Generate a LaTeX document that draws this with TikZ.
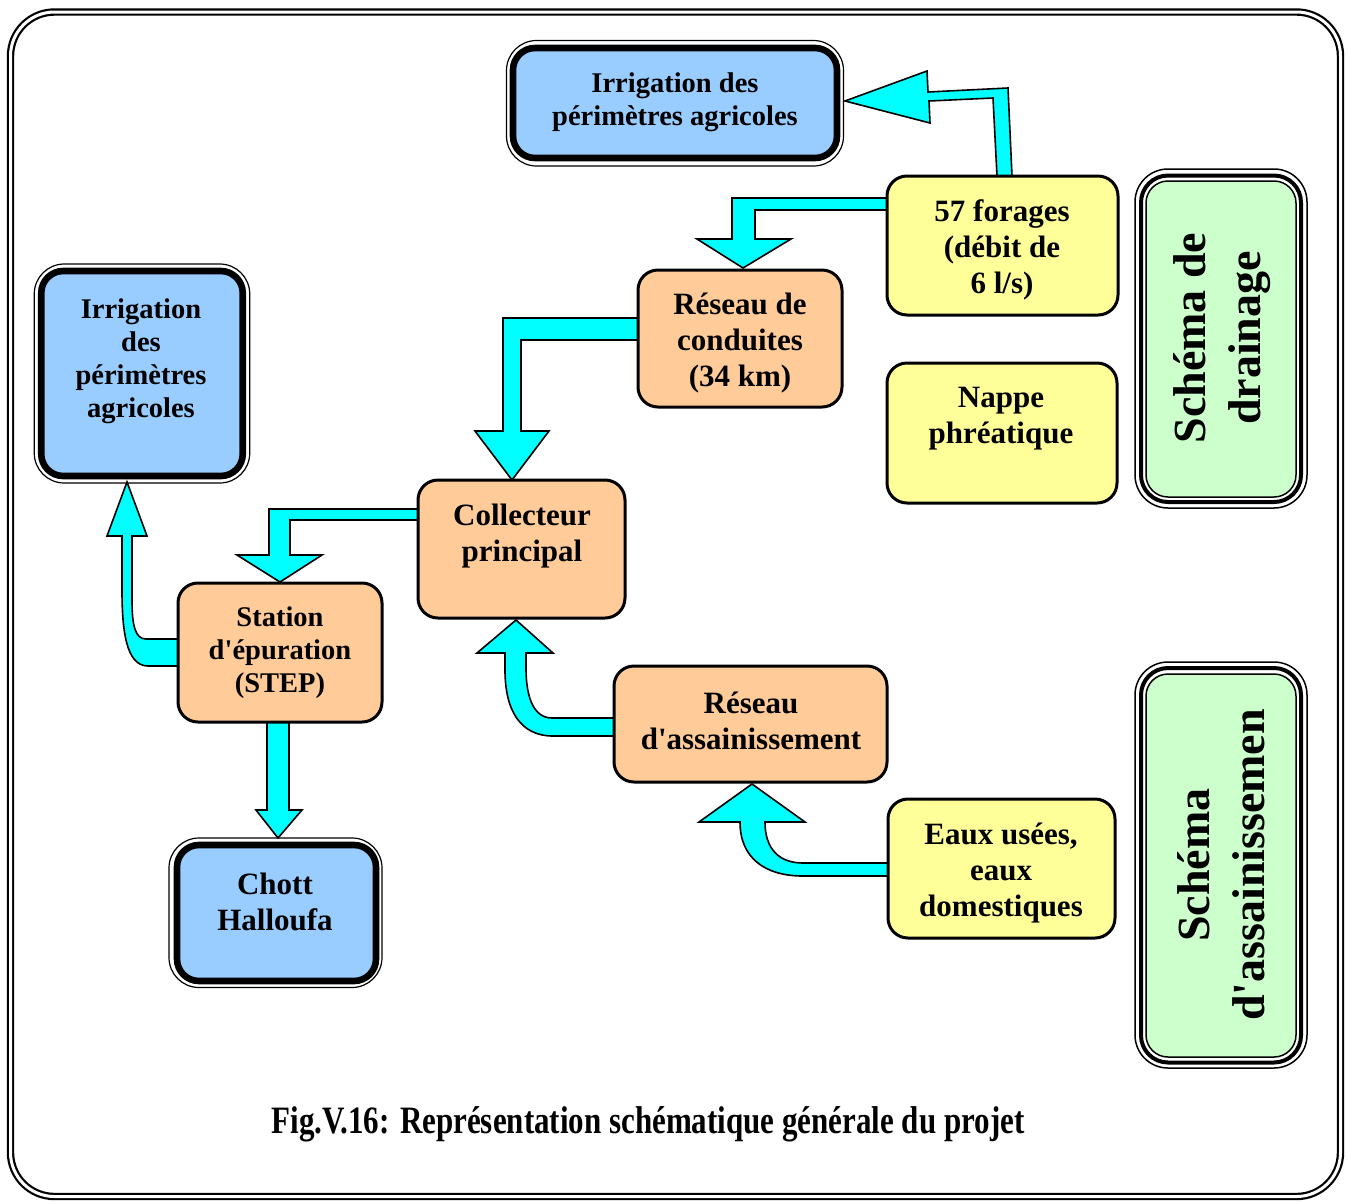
\documentclass[tikz,border=0pt]{standalone}
\usepackage{fontspec}
\usepackage{graphicx}
\setmainfont{Liberation Serif}
\usetikzlibrary{backgrounds}

\definecolor{skyfill}{HTML}{99CCFF}
\definecolor{peach}{HTML}{FFCC99}
\definecolor{lemon}{HTML}{FFFF99}
\definecolor{mint}{HTML}{CCFFCC}
\definecolor{flow}{HTML}{00FFFF}

\begin{document}
\begin{tikzpicture}[x=0.5pt,y=-0.5pt,
  procbox/.style={rectangle, rounded corners=10pt, draw, line width=1.5pt,
    outer sep=0pt, inner sep=0pt},
  peachbox/.style={procbox, fill=peach},
  lemonbox/.style={procbox, fill=lemon},
  sinkbox/.style={rectangle, rounded corners=11pt, draw, line width=3.3pt,
    fill=skyfill, outer sep=0pt, inner sep=0pt},
  sinkring/.style={draw, line width=0.6pt, rounded corners=15pt},
  legendbox/.style={rectangle, rounded corners=11pt, draw, line width=0.75pt,
    fill=mint, outer sep=0pt, inner sep=0pt},
  legendthick/.style={draw, line width=2pt, rounded corners=13.5pt},
  legendthin/.style={draw, line width=0.75pt, rounded corners=16.5pt},
  boxtext/.style={align=center, inner sep=0pt,
    font=\fontsize{15.5}{18}\selectfont\bfseries},
  boxtextsmall/.style={align=center, inner sep=0pt,
    font=\fontsize{14.25}{16.5}\selectfont\bfseries},
  legendtext/.style={align=center, inner sep=0pt, rotate=90,
    font=\fontsize{23}{27.5}\selectfont\bfseries},
  flowarrow/.style={fill=flow, draw=black, line width=0.8pt, line join=miter},
]
\useasboundingbox (0,0) rectangle (1350,1201);

% ---------- boxes ----------
% destination boxes (blue, heavy border with thin outer ring)
\node[sinkbox, minimum width=162pt, minimum height=55pt] (irrT) at (675,103) {};
\draw[sinkring] ([shift={(-6.5,-7.5)}]irrT.north west) rectangle ([shift={(6.5,8)}]irrT.south east);
\node[boxtextsmall] (irrT-t) at (675,102.5) {Irrigation des\\périmètres agricoles};

\node[sinkbox, minimum width=100.75pt, minimum height=102.5pt] (irrL) at (142,373.5) {};
\draw[sinkring] ([shift={(-7,-7)}]irrL.north west) rectangle ([shift={(7,7)}]irrL.south east);
\node[boxtextsmall] (irrL-t) at (141,361.5) {Irrigation\\des\\périmètres\\agricoles};

\node[sinkbox, minimum width=99.5pt, minimum height=68pt] (chott) at (276.5,913) {};
\draw[sinkring] ([shift={(-8,-7)}]chott.north west) rectangle ([shift={(6,6.5)}]chott.south east);
\node[boxtext] (chott-t) at (275,902) {Chott\\Halloufa};

% processing boxes (peach)
\node[peachbox, minimum width=102pt, minimum height=68.5pt] (cond) at (740,338.5) {};
\node[boxtext] (cond-t) at (740,343.5) {Réseau de\\conduites\\(34 km)};

\node[peachbox, minimum width=103.5pt, minimum height=69pt] (coll) at (521.5,549) {};
\node[boxtext] (coll-t) at (522,536.5) {Collecteur\\principal};

\node[peachbox, minimum width=102pt, minimum height=69.5pt] (stat) at (280,652.5) {};
\node[boxtextsmall] (stat-t) at (280,653) {Station\\d\textquotesingle épuration\\(STEP)};

\node[peachbox, minimum width=136.5pt, minimum height=58pt] (assn) at (750.5,724) {};
\node[boxtext] (assn-t) at (751,720.5) {Réseau\\d\textquotesingle assainissement};

% source boxes (yellow)
\node[lemonbox, minimum width=115.5pt, minimum height=69.5pt] (forg) at (1002.5,245.5) {};
\node[boxtext] (forg-t) at (1002,250) {57 forages\\(débit de\\6 l/s)};

\node[lemonbox, minimum width=115pt, minimum height=70pt] (napp) at (1002,433) {};
\node[boxtext] (napp-t) at (1001,419) {Nappe\\phréatique};

\node[lemonbox, minimum width=113.5pt, minimum height=69.5pt] (eaux) at (1001.5,868.5) {};
\node[boxtext] (eaux-t) at (1001,873) {Eaux usées,\\eaux\\domestiques};

% legend boxes (green, thin-thick-thin border)
\node[legendbox, minimum width=75pt, minimum height=158pt] (drn) at (1221,339) {};
\draw[legendthick] ([shift={(-5,-5.5)}]drn.north west) rectangle ([shift={(5,5)}]drn.south east);
\draw[legendthin] ([shift={(-11,-12)}]drn.north west) rectangle ([shift={(11,11)}]drn.south east);
\node[legendtext] (drn-t) at (1222,338) {Schéma de\\drainage};

\node[legendbox, minimum width=75pt, minimum height=191.5pt] (san) at (1221,865.5) {};
\draw[legendthick] ([shift={(-5,-6)}]san.north west) rectangle ([shift={(5,5.5)}]san.south east);
\draw[legendthin] ([shift={(-11,-12)}]san.north west) rectangle ([shift={(11,11)}]san.south east);
\node[legendtext] (san-t) at (1221,865) {Schéma\\d\textquotesingle assainissemen};

% caption
\node[inner sep=0pt] (cap) at (648,1124)
  {\scalebox{1}[1.25]{\fontsize{15.5}{18}\selectfont\bfseries Fig.V.16: Représentation schématique générale du projet}};

% ---------- frame and flow arrows (behind the boxes) ----------
\begin{pgfonlayer}{background}
\fill[white] (0,0) rectangle (1350,1201);
\draw[line width=1.1pt, double=white, double distance=1.5pt, rounded corners=22pt]
  (10.5,12) rectangle (1340.5,1196.5);

% forages -> irrigation (top)
\draw[flowarrow] ([shift={(-5.5,0)}]forg.north) -- ([shift={(-9.5,-78)}]forg.north)
  -- ([shift={(92,-2)}]irrT.east) -- ([shift={(93,20)}]irrT.east)
  -- ([shift={(8,-2)}]irrT.east) -- ([shift={(90,-32)}]irrT.east)
  -- ([shift={(91,-11)}]irrT.east) -- ([shift={(5.5,-88)}]forg.north)
  -- ([shift={(9.5,0)}]forg.north) -- cycle;

% forages -> réseau de conduites
\draw[flowarrow] ([shift={(0,-47.5)}]forg.west) -- ([shift={(-8,-72)}]cond.north)
  -- ([shift={(-8,-31)}]cond.north) -- ([shift={(-43,-31)}]cond.north)
  -- ([shift={(3,-2)}]cond.north) -- ([shift={(51,-31)}]cond.north)
  -- ([shift={(15,-31)}]cond.north) -- ([shift={(15,-60)}]cond.north)
  -- ([shift={(0,-35.5)}]forg.west) -- cycle;

% réseau de conduites -> collecteur
\draw[flowarrow] ([shift={(0,-20.5)}]cond.west) -- ([shift={(-18.5,-162)}]coll.north)
  -- ([shift={(-18.5,-49)}]coll.north) -- ([shift={(-46.5,-49)}]coll.north)
  -- ([shift={(-9.5,0)}]coll.north) -- ([shift={(27.5,-49)}]coll.north)
  -- ([shift={(-0.5,-49)}]coll.north) -- ([shift={(-0.5,-140)}]coll.north)
  -- ([shift={(0,1.5)}]cond.west) -- cycle;

% collecteur -> station
\draw[flowarrow] ([shift={(0,-40)}]coll.west) -- ([shift={(-11,-74)}]stat.north)
  -- ([shift={(-11,-28)}]stat.north) -- ([shift={(-43,-28)}]stat.north)
  -- ([shift={(0,-1)}]stat.north) -- ([shift={(42,-28)}]stat.north)
  -- ([shift={(10,-28)}]stat.north) -- ([shift={(10,-63)}]stat.north)
  -- ([shift={(0,-29)}]coll.west) -- cycle;

% station -> irrigation (left)
\draw[flowarrow] ([shift={(0,13.5)}]stat.west) -- ([shift={(-30,13.5)}]stat.west)
  .. controls ([shift={(-52,13.5)}]stat.west) and ([shift={(-56,-22.5)}]stat.west)
  .. ([shift={(-20,114)}]irrL.south) -- ([shift={(-20,60)}]irrL.south)
  -- ([shift={(-35,60)}]irrL.south) -- ([shift={(-15,6)}]irrL.south)
  -- ([shift={(5,60)}]irrL.south) -- ([shift={(-10,60)}]irrL.south)
  -- ([shift={(-10,124)}]irrL.south)
  .. controls ([shift={(-46,-27.5)}]stat.west) and ([shift={(-43,-13.5)}]stat.west)
  .. ([shift={(-32,-13.5)}]stat.west) -- ([shift={(0,-13.5)}]stat.west) -- cycle;

% station -> chott
\draw[flowarrow] ([shift={(-13,0)}]stat.south) -- ([shift={(-13,88)}]stat.south)
  -- ([shift={(-24,88)}]stat.south) -- ([shift={(1.5,-7)}]chott.north)
  -- ([shift={(22,88)}]stat.south) -- ([shift={(9,88)}]stat.south)
  -- ([shift={(9,0)}]stat.south) -- cycle;

% réseau d'assainissement -> collecteur
\draw[flowarrow] ([shift={(0,12)}]assn.west) -- ([shift={(-61,12)}]assn.west)
  .. controls ([shift={(-94,12)}]assn.west) and ([shift={(-109,-14)}]assn.west)
  .. ([shift={(-16.5,52)}]coll.south) -- ([shift={(-16.5,35)}]coll.south)
  -- ([shift={(-44.5,35)}]coll.south) -- ([shift={(-5.5,2)}]coll.south)
  -- ([shift={(31.5,35)}]coll.south) -- ([shift={(4.5,35)}]coll.south)
  -- ([shift={(4.5,50)}]coll.south)
  .. controls ([shift={(-88,-24)}]assn.west) and ([shift={(-79,-6)}]assn.west)
  .. ([shift={(-62,-6)}]assn.west) -- ([shift={(0,-6)}]assn.west) -- cycle;

% eaux usées -> réseau d'assainissement
\draw[flowarrow] ([shift={(0,7.5)}]eaux.west) -- ([shift={(-85,7.5)}]eaux.west)
  .. controls ([shift={(-123,7.5)}]eaux.west) and ([shift={(-148,-10.5)}]eaux.west)
  .. ([shift={(-10.5,40)}]assn.south) -- ([shift={(-51.5,40)}]assn.south)
  -- ([shift={(1.5,2)}]assn.south) -- ([shift={(54.5,40)}]assn.south)
  -- ([shift={(14.5,40)}]assn.south)
  .. controls ([shift={(-123,-18.5)}]eaux.west) and ([shift={(-108,-5.5)}]eaux.west)
  .. ([shift={(-85,-5.5)}]eaux.west) -- ([shift={(0,-5.5)}]eaux.west) -- cycle;
\end{pgfonlayer}
\end{tikzpicture}
\end{document}
